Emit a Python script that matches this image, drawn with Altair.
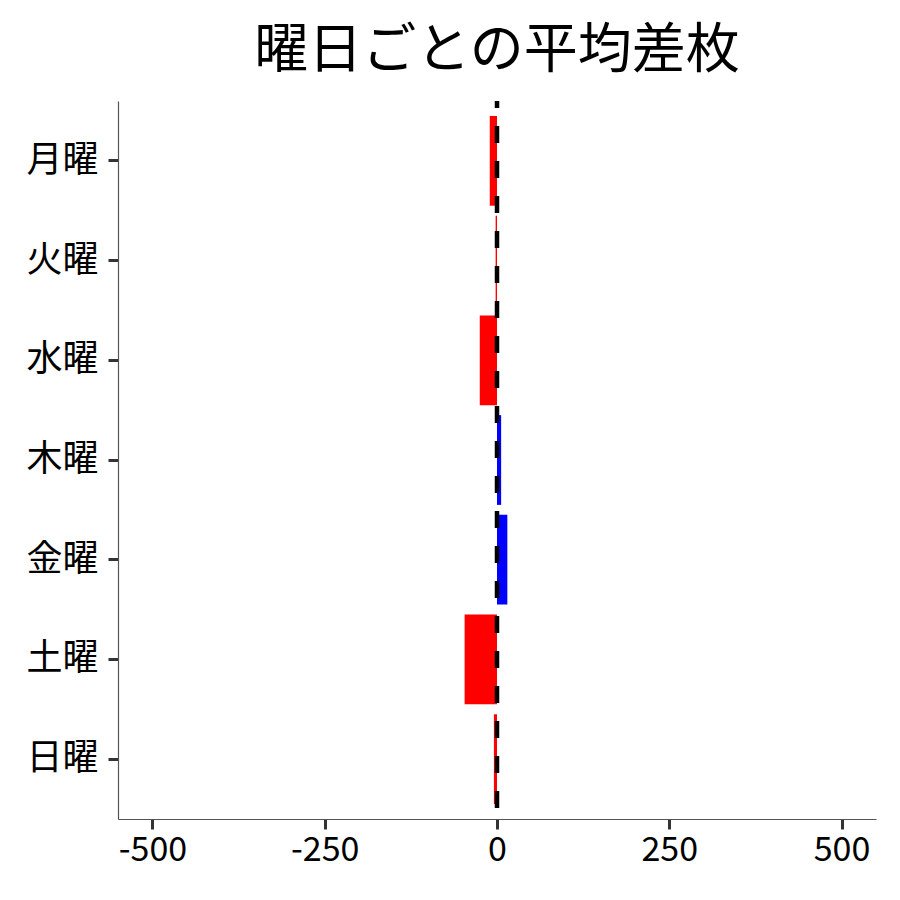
import altair as alt
import pandas as pd

days = ["月曜", "火曜", "水曜", "木曜", "金曜", "土曜", "日曜"]
diffs = [-10.5, -2, -25, 6, 15, -47, -4.5]
x_ticks = [-500, -250, 0, 250, 500]

df = pd.DataFrame({"day": days, "diff": diffs})

FONT = "Noto Sans CJK JP"
W, H = 758, 718

bars = alt.Chart(df).mark_bar().encode(
    x=alt.X("diff:Q", scale=alt.Scale(domain=[-550, 550], nice=False, zero=False),
            axis=alt.Axis(values=x_ticks, title=None, grid=False, labelFontSize=34,
                          labelFont=FONT, labelColor="black", domainColor="#555",
                          domainWidth=1.2, tickColor="#333", tickWidth=3, tickSize=10,
                          labelPadding=4,
                          labelExpr="datum.value < 0 ? '-' + abs(datum.value) : '' + datum.value")),
    y=alt.Y("day:N", sort=days,
            scale=alt.Scale(paddingInner=0.1, paddingOuter=0.15),
            axis=alt.Axis(title=None, grid=False, labelFontSize=36, labelFont=FONT,
                          labelColor="black", domainColor="#555", domainWidth=1.2,
                          tickColor="#333", tickWidth=3, tickSize=10, labelPadding=10)),
    color=alt.condition(alt.datum["diff"] < 0, alt.value("#ff0000"), alt.value("#0000ff")),
)

zero_line = alt.Chart(pd.DataFrame({"z": [0]})).mark_rule(
    color="black", strokeWidth=4.5, strokeDash=[17, 18], strokeDashOffset=10
).encode(x=alt.X("z:Q"), y=alt.value(0), y2=alt.value(H))

chart = alt.layer(bars, zero_line).properties(
    width=W, height=H,
    title=alt.TitleParams("曜日ごとの平均差枚", fontSize=54, font=FONT, fontWeight="normal",
                          color="black", anchor="middle", offset=20),
    padding={"left": 110, "top": 93, "right": 8, "bottom": 55},
    autosize=alt.AutoSizeParams(type="none"),
).configure(background="white").configure_view(strokeWidth=0, stroke="transparent")

chart.save("out.html", embed_options={"renderer": "svg", "actions": False})
